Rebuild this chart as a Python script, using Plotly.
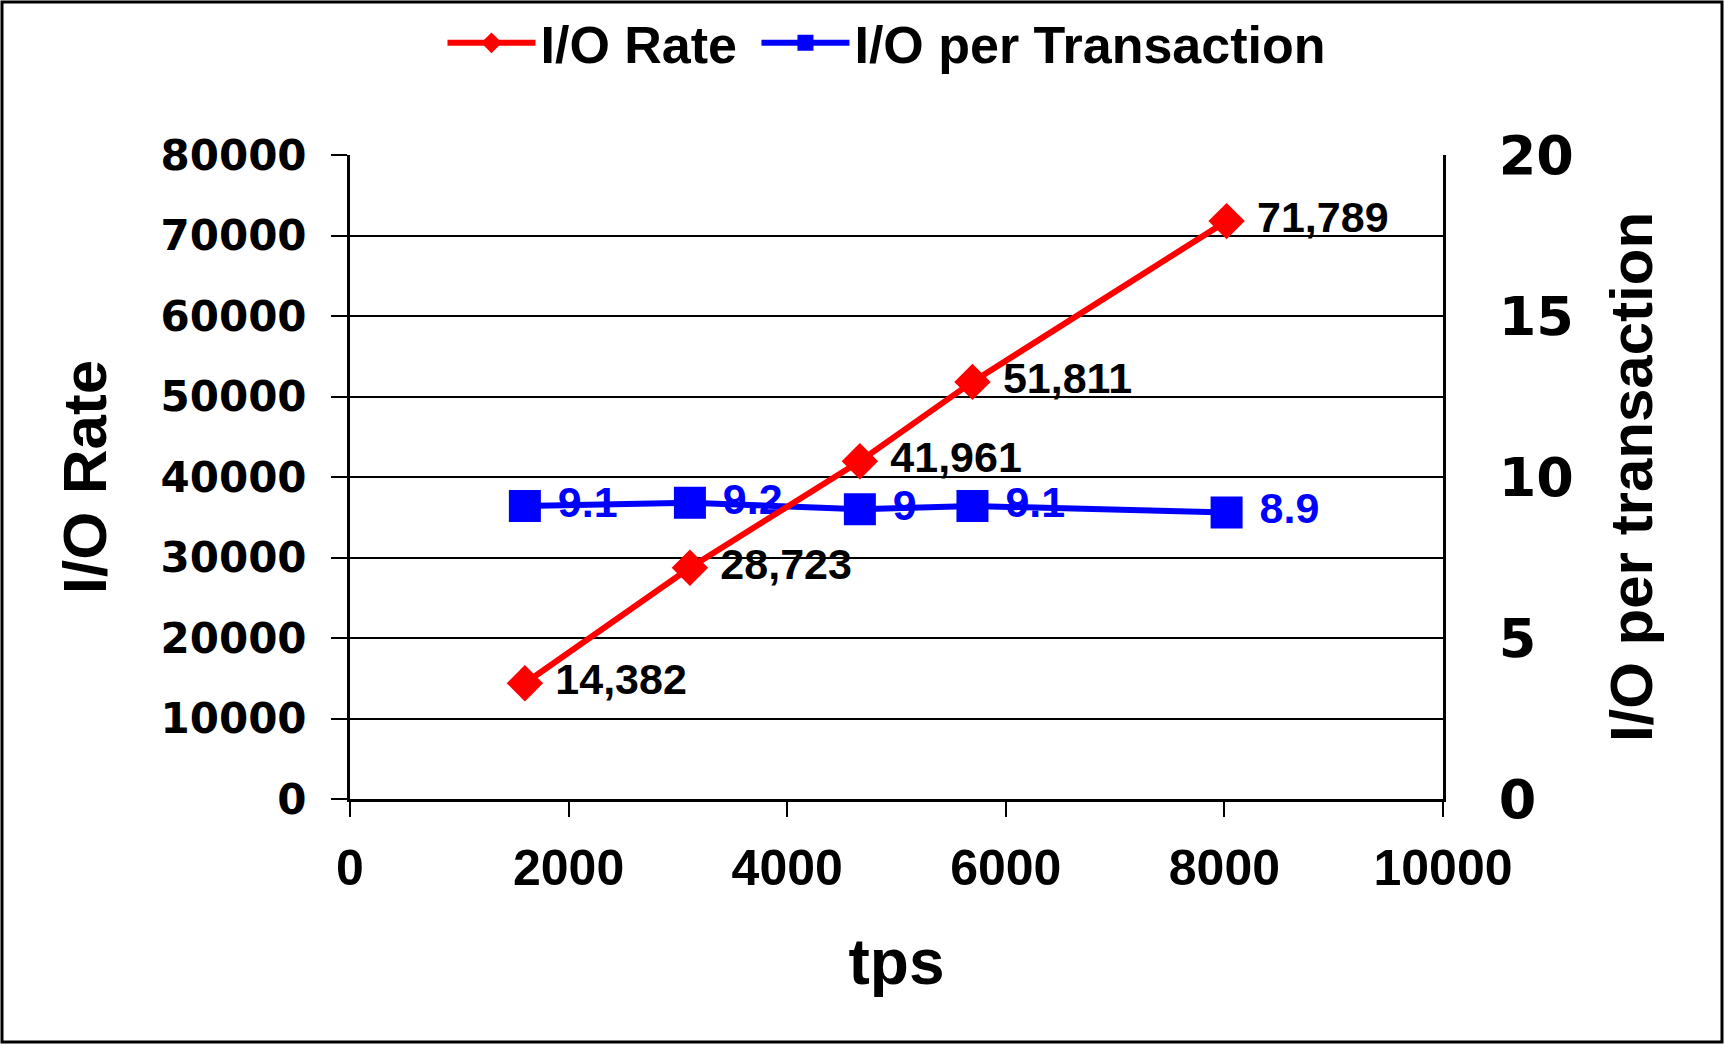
import plotly.graph_objects as go

tps = [1600, 3110, 4665, 5695, 8020]
io_rate = [14382, 28723, 41961, 51811, 71789]
io_per_tx = [9.1, 9.2, 9.0, 9.1, 8.9]
series_names = ["I/O Rate", "I/O per Transaction"]

W, H = 1725, 1045
L, R, T, B = 350, 282, 155, 246
pw, ph = W - L - R, H - T - B

fig = go.Figure()
fig.add_trace(go.Scatter(
    x=tps, y=io_rate, name=series_names[0] + "\u00a0", yaxis="y2",
    mode="lines+markers+text",
    line=dict(color="#ff0000", width=6),
    marker=dict(symbol="diamond", size=28, color="#ff0000"),
    text=[" " + f"{v:,}" for v in io_rate], texttemplate="%{text}", textposition="middle right",
    textfont=dict(family="Liberation Sans", size=43, color="black", weight=700),
))
fig.add_trace(go.Scatter(
    x=tps, y=io_per_tx, name=series_names[1], yaxis="y",
    mode="lines+markers+text",
    line=dict(color="#0000ff", width=6),
    marker=dict(symbol="square", size=32, color="#0000ff"),
    text=[" " + f"{v:g}" for v in io_per_tx], texttemplate="%{text}", textposition="middle right",
    textfont=dict(family="Liberation Sans", size=43, color="#0000ff", weight=700),
))

fig.update_layout(
    width=W, height=H,
    margin=dict(l=L, r=R, t=T, b=B, autoexpand=False),
    paper_bgcolor="white", plot_bgcolor="white",
    showlegend=True,
    legend=dict(orientation="h", x=0.5 - 10 / pw, xanchor="center", y=(H - B - 43) / ph, yanchor="middle",
                bgcolor="rgba(0,0,0,0)",
                font=dict(family="Liberation Sans", size=52, color="black", weight=700),
                itemwidth=88, traceorder="normal"),
    xaxis=dict(
        range=[0, 10000], dtick=2000, tick0=0, tickformat="d",
        showgrid=False, zeroline=False,
        showline=True, linecolor="black", linewidth=3,
        ticks="outside", ticklen=15, tickwidth=2, tickcolor="black",
        ticklabelstandoff=8,
        tickfont=dict(family="Liberation Sans", size=50, color="black", weight=700),
        title=dict(text="tps", standoff=45,
                   font=dict(family="Liberation Sans", size=64, color="black", weight=700)),
    ),
    yaxis=dict(
        side="right", range=[0, 20], dtick=5, tick0=0, tickformat="d",
        showgrid=False, zeroline=False,
        showline=True, linecolor="black", linewidth=3,
        ticks="", ticklabelstandoff=42,
        tickfont=dict(family="DejaVu Sans", size=54, color="black", weight=700),
        title=dict(text="I/O per transaction", standoff=38,
                   font=dict(family="Liberation Sans", size=60, color="black", weight=700)),
    ),
    yaxis2=dict(
        side="left", overlaying="y", range=[0, 80000], dtick=10000, tick0=0, tickformat="d",
        showgrid=True, gridcolor="black", gridwidth=2, zeroline=False,
        showline=True, linecolor="black", linewidth=3,
        ticks="outside", ticklen=16, tickwidth=2, tickcolor="black",
        ticklabelstandoff=16,
        tickfont=dict(family="DejaVu Sans", size=42, color="black", weight=700),
        title=dict(text="I/O Rate", standoff=34,
                   font=dict(family="Liberation Sans", size=62, color="black", weight=700)),
    ),
)

# outer frame around the whole picture
fig.add_shape(type="rect", xref="paper", yref="paper",
              x0=(2 - L) / pw, x1=(W - 3 - L) / pw,
              y0=(H - B - (H - 3)) / ph, y1=(H - B - 2) / ph,
              line=dict(color="black", width=3), fillcolor="rgba(0,0,0,0)", layer="above")

fig.write_html("out.html", config={"displayModeBar": False},
               post_script="document.body.style.margin='0';document.body.style.padding='0';"
                           "document.body.style.overflow='hidden';")
